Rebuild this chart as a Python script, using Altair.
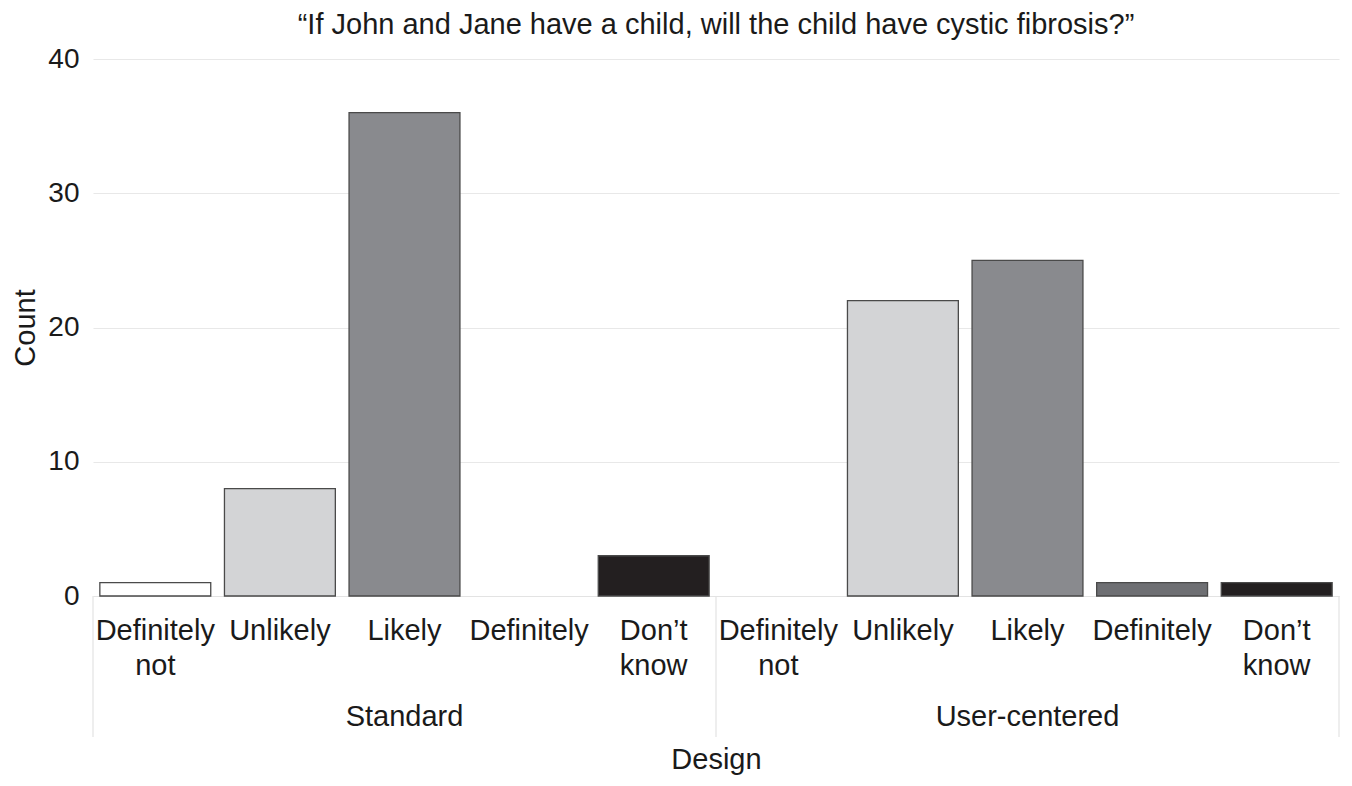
import altair as alt
import pandas as pd

groups = ["Standard", "User-centered"]
categories = ["Definitely|not", "Unlikely", "Likely", "Definitely", "Don’t|know"]
standard_counts = [1, 8, 36, 0, 3]
user_counts = [0, 22, 25, 1, 1]
fill_colors = ["#ffffff", "#d3d4d6", "#898a8e", "#6e6f73", "#231f20"]
title_text = "“If John and Jane have a child, will the child have cystic fibrosis?”"

FONT = "Liberation Sans"
W, H = 1246, 537

rows = []
keys = []
for g, vals in zip(groups, [standard_counts, user_counts]):
    for c, v in zip(categories, vals):
        k = f"{g}|{c}"
        keys.append(k)
        rows.append({"key": k, "group": g, "cat": c, "count": v})
df = pd.DataFrame(rows)

xscale = alt.Scale(domain=keys, paddingInner=0, paddingOuter=0)

bars = alt.Chart(df).transform_filter("datum.count > 0").mark_bar(
    width=alt.RelativeBandSize(0.89), stroke="#4a4a4a", strokeWidth=1.3
).encode(
    x=alt.X("key:N", scale=xscale, sort=None,
            axis=alt.Axis(title="Design", labelExpr="slice(split(datum.label, '|'), 1)",
                          labelAngle=0, labelAlign="center", labelBaseline="top",
                          labelFontSize=29, labelLineHeight=35, labelPadding=20,
                          labelColor="#1a1a1a", ticks=False, grid=False,
                          domainColor="#e3e3e3", domainWidth=1.2,
                          titleFontSize=29, titleFontWeight="normal", titleColor="#1a1a1a",
                          titlePadding=65, labelFont=FONT, titleFont=FONT)),
    y=alt.Y("count:Q", scale=alt.Scale(domain=[0, 40]),
            axis=alt.Axis(title="Count", values=[0, 10, 20, 30, 40], ticks=False, domain=False,
                          gridColor="#e8e8e8", gridWidth=1.2, labelFontSize=28,
                          labelPadding=14, labelColor="#1a1a1a", titleFontSize=29,
                          titleFontWeight="normal", titleColor="#1a1a1a", titlePadding=7,
                          labelFont=FONT, titleFont=FONT)),
    color=alt.Color("cat:N", scale=alt.Scale(domain=categories, range=fill_colors), legend=None),
)

gdf = pd.DataFrame({"key": [f"{g}|Likely" for g in groups], "group": groups})
glabels = alt.Chart(gdf).mark_text(fontSize=29, font=FONT, color="#1a1a1a", baseline="middle").encode(
    x=alt.X("key:N", scale=xscale, sort=None),
    y=alt.value(H + 121),
    text="group:N",
)

sep_start = pd.DataFrame({"key": [f"{g}|{categories[0]}" for g in groups]})
sep_end = pd.DataFrame({"key": [f"{groups[-1]}|{categories[-1]}"]})
rule_start = alt.Chart(sep_start).mark_rule(color="#e3e3e3", strokeWidth=1.2).encode(
    x=alt.X("key:N", scale=xscale, sort=None, bandPosition=0),
    y=alt.value(H), y2=alt.value(H + 141),
)
rule_end = alt.Chart(sep_end).mark_rule(color="#e3e3e3", strokeWidth=1.2).encode(
    x=alt.X("key:N", scale=xscale, sort=None, bandPosition=1),
    y=alt.value(H), y2=alt.value(H + 141),
)

chart = alt.layer(rule_start, rule_end, bars, glabels).properties(
    width=W, height=H, padding={"left": 3, "top": 3, "right": 2, "bottom": 2},
    title=alt.TitleParams(title_text, fontSize=29, font=FONT, fontWeight="normal",
                          color="#1a1a1a", anchor="middle", offset=5),
).configure_view(stroke=None)

chart.save("out.html", embed_options={"renderer": "svg", "actions": False})
